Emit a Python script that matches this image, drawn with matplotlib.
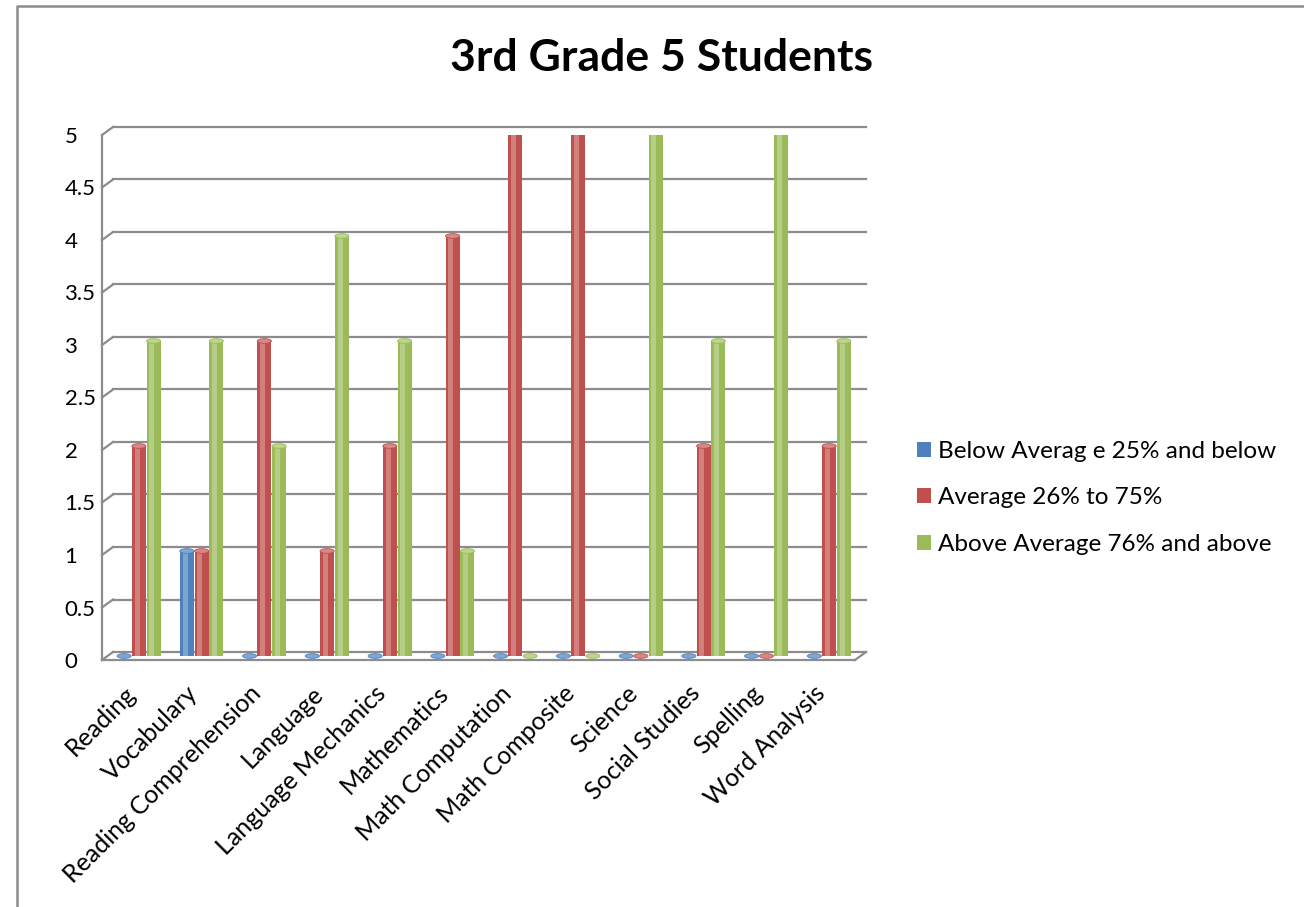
import numpy as np
import matplotlib
matplotlib.use('Agg')
import matplotlib.pyplot as plt
import matplotlib.transforms as mtransforms
from matplotlib.patches import Ellipse, Patch
from matplotlib.lines import Line2D

plt.rcParams['font.family'] = ['Lato', 'DejaVu Sans']

subjects = ['Reading', 'Vocabulary', 'Reading Comprehension', 'Language',
            'Language Mechanics', 'Mathematics', 'Math Computation',
            'Math Composite', 'Science', 'Social Studies', 'Spelling',
            'Word Analysis']
below = [0, 1, 0, 0, 0, 0, 0, 0, 0, 0, 0, 0]
average = [2, 1, 3, 1, 2, 4, 5, 5, 0, 2, 0, 2]
above = [3, 3, 2, 4, 3, 1, 0, 0, 5, 3, 5, 3]
series_names = ['Below Averag e 25% and below', 'Average 26% to 75%',
                'Above Average 76% and above']
colors = ['#4F81BD', '#C0504D', '#9BBB59']
caps = ['#7FA6D6', '#D98886', '#BCD68A']
yticks = [0, 0.5, 1, 1.5, 2, 2.5, 3, 3.5, 4, 4.5, 5]

W, H = 1304, 907
fig = plt.figure(figsize=(W / 100, H / 100), dpi=100)
# front plane of the plot: x 102..855, y 135..660 (pixels)
ax = fig.add_axes([102 / W, (H - 660) / H, (855 - 102) / W, (660 - 135) / H])
ax.set_xlim(-0.5, len(subjects) - 0.5)
ax.set_ylim(0, 5)
ax.patch.set_visible(False)

grid_c = '#8C8C8C'
dx, dy = 11, 8  # depth offset of back wall in px

back = ax.get_yaxis_transform() + mtransforms.ScaledTranslation(dx / 100, dy / 100, fig.dpi_scale_trans)
mid = ax.transData + mtransforms.ScaledTranslation(dx / 200, dy / 200, fig.dpi_scale_trans)

# back wall gridlines and the little diagonals on the left
for yv in yticks:
    ax.plot([0, 1], [yv, yv], transform=back, color=grid_c, lw=1.6, zorder=1, clip_on=False)
    x0, y0 = ax.get_yaxis_transform().transform((0, yv))
    fig.add_artist(Line2D([x0, x0 + dx], [y0, y0 + dy], transform=None, color=grid_c, lw=1.6))

# floor
x1, y1 = ax.get_yaxis_transform().transform((1, 0))
fig.add_artist(Line2D([x1, x1 + dx], [y1, y1 + dy], transform=None, color=grid_c, lw=1.6))

for s in ['top', 'right']:
    ax.spines[s].set_visible(False)
for s in ['left', 'bottom']:
    ax.spines[s].set_color(grid_c)
    ax.spines[s].set_linewidth(1.6)

x = np.arange(len(subjects))
bw = 0.225
offsets = [-0.235, 0, 0.235]
for vals, off, c, cc in zip([below, average, above], offsets, colors, caps):
    xs = x + off
    ax.bar(xs, vals, width=bw, color=c, transform=mid, zorder=3)
    # light strip to fake the cylinder shading
    ax.bar(xs - bw * 0.12, vals, width=bw * 0.35, color='white', alpha=0.28,
           transform=mid, zorder=4, linewidth=0)
    for xi, v in zip(xs, vals):
        ax.add_patch(Ellipse((xi, v), bw, 0.045, facecolor=cc, edgecolor=c,
                             lw=0.6, transform=mid, zorder=5))

ax.set_yticks(yticks)
ax.set_yticklabels([f'{v:g}' for v in yticks], ha='left')
ax.tick_params(axis='y', length=0, pad=27, labelsize=16)
ax.set_xticks(x)
ax.set_xticklabels(subjects, rotation=45, ha='right', rotation_mode='anchor')
ax.tick_params(axis='x', length=0, pad=14, labelsize=18)
shift = mtransforms.ScaledTranslation(-10 / 100, -2 / 100, fig.dpi_scale_trans)
for lab in ax.get_xticklabels():
    lab.set_transform(lab.get_transform() + shift)

fig.text(661 / W, 1 - 58 / H, '3rd Grade 5 Students', ha='center', va='center',
         fontsize=32, fontweight='bold')

handles = [Patch(facecolor=c) for c in colors]
fig.legend(handles, series_names, loc='center left',
           bbox_to_anchor=(917 / W, 1 - 498 / H), frameon=False, fontsize=17.5,
           handlelength=0.58, handleheight=0.58, handletextpad=0.28,
           labelspacing=1.05, borderpad=0, borderaxespad=0)

# chart border
fig.add_artist(Line2D([16.5, 16.5, W], [0, H - 5.5, H - 5.5], transform=None,
                      color='#8C8C8C', lw=1.8))

fig.savefig('out.png', dpi=100)
